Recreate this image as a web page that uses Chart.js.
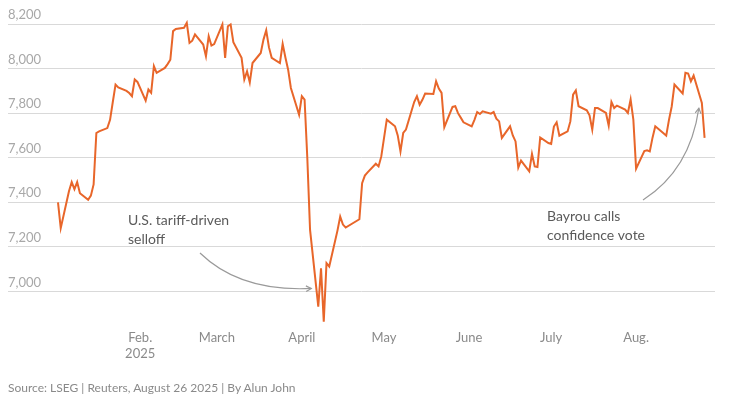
<!DOCTYPE html>
<html>
<head>
<meta charset="utf-8">
<script src="https://cdn.jsdelivr.net/npm/chart.js@4.4.1/dist/chart.umd.min.js"></script>
<style>
  html, body { margin: 0; padding: 0; background: #fff; }
  #wrap { position: relative; width: 741px; height: 398px; }
  #c { position: absolute; left: 0; top: 0; }
  #src { position: absolute; left: 8px; top: 380px; font: 12px Lato, "Open Sans", sans-serif; color: #8a8a8a; white-space: nowrap; }
</style>
</head>
<body>
<div id="wrap">
  <canvas id="c" width="741" height="398"></canvas>
  <div id="src">Source: LSEG | Reuters, August 26 2025 | By Alun John</div>
</div>
<script>
// ---- Data (CAC 40 daily close) ----
const dates = [
  "2025-01-02","2025-01-03","2025-01-06","2025-01-07","2025-01-08","2025-01-09","2025-01-10",
  "2025-01-13","2025-01-14","2025-01-15","2025-01-16","2025-01-17","2025-01-20","2025-01-21",
  "2025-01-22","2025-01-23","2025-01-24","2025-01-27","2025-01-28","2025-01-29","2025-01-30","2025-01-31",
  "2025-02-03","2025-02-04","2025-02-05","2025-02-06","2025-02-07","2025-02-10","2025-02-11",
  "2025-02-12","2025-02-13","2025-02-14","2025-02-17","2025-02-18","2025-02-19","2025-02-20",
  "2025-02-21","2025-02-24","2025-02-25","2025-02-26","2025-02-27","2025-02-28",
  "2025-03-03","2025-03-04","2025-03-05","2025-03-06","2025-03-07","2025-03-10","2025-03-11",
  "2025-03-12","2025-03-13","2025-03-14","2025-03-17","2025-03-18","2025-03-19","2025-03-20",
  "2025-03-21","2025-03-24","2025-03-25","2025-03-26","2025-03-27","2025-03-28","2025-03-31",
  "2025-04-01","2025-04-02","2025-04-03","2025-04-04","2025-04-07","2025-04-08","2025-04-09",
  "2025-04-10","2025-04-11","2025-04-14","2025-04-15","2025-04-16","2025-04-17","2025-04-22",
  "2025-04-23","2025-04-24","2025-04-25","2025-04-28","2025-04-29","2025-04-30",
  "2025-05-02","2025-05-05","2025-05-06","2025-05-07","2025-05-08","2025-05-09","2025-05-12",
  "2025-05-13","2025-05-14","2025-05-15","2025-05-16","2025-05-19","2025-05-20","2025-05-21",
  "2025-05-22","2025-05-23","2025-05-26","2025-05-27","2025-05-28","2025-05-29","2025-05-30",
  "2025-06-02","2025-06-03","2025-06-04","2025-06-05","2025-06-06","2025-06-09","2025-06-10",
  "2025-06-11","2025-06-12","2025-06-13","2025-06-16","2025-06-17","2025-06-18","2025-06-19",
  "2025-06-20","2025-06-23","2025-06-24","2025-06-25","2025-06-26","2025-06-27","2025-06-30",
  "2025-07-01","2025-07-02","2025-07-03","2025-07-04","2025-07-07","2025-07-08","2025-07-09",
  "2025-07-10","2025-07-11","2025-07-14","2025-07-15","2025-07-16","2025-07-17","2025-07-18",
  "2025-07-21","2025-07-22","2025-07-23","2025-07-24","2025-07-25","2025-07-28","2025-07-29",
  "2025-07-30","2025-07-31","2025-08-01","2025-08-04","2025-08-05","2025-08-06","2025-08-07",
  "2025-08-08","2025-08-11","2025-08-12","2025-08-13","2025-08-14","2025-08-15","2025-08-18",
  "2025-08-19","2025-08-20","2025-08-21","2025-08-22","2025-08-25","2025-08-26"
];
const closes = [
  7400,7284,7450,7491,7459,7491,7441,
  7411,7430,7480,7711,7718,7733,7770,
  7850,7928,7915,7900,7890,7876,7951,7940,
  7856,7906,7891,8011,7981,8003,8020,
  8040,8168,8178,8183,8205,8115,8125,
  8153,8108,8055,8145,8103,8110,
  8198,8048,8190,8198,8118,8048,7951,
  7988,7938,8025,8070,8130,8172,8095,
  8048,8025,8111,8050,7995,7913,7793,
  7876,7861,7598,7276,6932,7104,6864,
  7127,7112,7273,7336,7300,7287,7324,
  7486,7520,7534,7573,7561,7606,
  7771,7741,7700,7628,7711,7726,7850,
  7876,7838,7860,7888,7886,7943,7910,
  7891,7737,7828,7831,7800,7780,7759,
  7741,7770,7805,7796,7808,7798,7805,
  7775,7763,7689,7741,7700,7673,7556,
  7587,7539,7617,7561,7558,7691,7666,
  7662,7740,7759,7699,7718,7763,7883,
  7902,7831,7813,7790,7726,7823,7823,
  7801,7744,7850,7823,7834,7816,7801,
  7861,7771,7551,7630,7633,7628,7690,
  7741,7710,7699,7770,7830,7928,7888,
  7981,7978,7943,7969,7846,7689
];
const yTicks = [7000, 7200, 7400, 7600, 7800, 8000, 8200];
const monthStarts = ["2025-02-01","2025-03-01","2025-04-01","2025-05-01","2025-06-01","2025-07-01","2025-08-01"];
const monthLabels = [["Feb.","2025"],["March"],["April"],["May"],["June"],["July"],["Aug."]];

// day-of-year helper
function doy(s) {
  const d = new Date(s + "T00:00:00Z");
  return (d - Date.UTC(2025, 0, 1)) / 86400000 + 1;
}
const points = dates.map((d, i) => ({ x: doy(d), y: closes[i] }));
const monthTickValues = monthStarts.map(doy);

const annotations = {
  id: 'annotations',
  afterDatasetsDraw(chart) {
    const { ctx, scales: { x, y } } = chart;
    ctx.save();
    ctx.font = '14px Lato, "Open Sans", sans-serif';
    ctx.fillStyle = '#5a5a5a';
    ctx.textBaseline = 'middle';
    ctx.textAlign = 'left';
    ctx.fillText('U.S. tariff-driven', 128, 220);
    ctx.fillText('selloff', 128, 239);
    ctx.fillText('Bayrou calls', 547, 216);
    ctx.fillText('confidence vote', 547, 235);

    ctx.strokeStyle = '#9a9a9a';
    ctx.lineWidth = 1.2;
    // tariff arrow
    const ex1 = x.getPixelForValue(doy("2025-04-07")) - 7, ey1 = y.getPixelForValue(7000) - 3;
    ctx.beginPath();
    ctx.moveTo(200, 253);
    ctx.quadraticCurveTo(240, 292, ex1, ey1);
    ctx.stroke();
    drawHead(ctx, 240, 292, ex1, ey1);
    // Bayrou arrow
    const ex2 = x.getPixelForValue(doy("2025-08-25")) - 3, ey2 = y.getPixelForValue(7800) - 5;
    ctx.beginPath();
    ctx.moveTo(643, 200);
    ctx.quadraticCurveTo(690, 170, ex2, ey2);
    ctx.stroke();
    drawHead(ctx, 690, 170, ex2, ey2);
    ctx.restore();
  }
};
function drawHead(ctx, cx, cy, ex, ey) {
  const a = Math.atan2(ey - cy, ex - cx);
  const L = 6, w = 0.5;
  ctx.beginPath();
  ctx.moveTo(ex - L * Math.cos(a - w), ey - L * Math.sin(a - w));
  ctx.lineTo(ex, ey);
  ctx.lineTo(ex - L * Math.cos(a + w), ey - L * Math.sin(a + w));
  ctx.stroke();
}

new Chart(document.getElementById('c'), {
  type: 'line',
  data: {
    datasets: [{
      data: points,
      borderColor: '#e8662a',
      borderWidth: 2,
      pointRadius: 0,
      tension: 0,
      clip: false
    }]
  },
  options: {
    responsive: false,
    animation: false,
    events: [],
    layout: { padding: { left: 8, right: 26, top: 24, bottom: 32 } },
    plugins: { legend: { display: false }, tooltip: { enabled: false } },
    scales: {
      x: {
        type: 'linear',
        min: -16.25,
        max: 241.8,
        afterBuildTicks(scale) { scale.ticks = monthTickValues.map(v => ({ value: v })); },
        afterFit(scale) { scale.height = 40; },
        ticks: {
          autoSkip: false,
          maxRotation: 0,
          padding: 4,
          color: '#8a8a8a',
          font: { family: 'Lato, "Open Sans", sans-serif', size: 13 },
          callback(v) { const i = monthTickValues.indexOf(v); return i >= 0 ? monthLabels[i] : ''; }
        },
        grid: { display: false, drawTicks: false },
        border: { display: false }
      },
      y: {
        min: 6845,
        max: 8200,
        afterBuildTicks(scale) { scale.ticks = yTicks.map(v => ({ value: v })); },
        afterFit(scale) { scale.width = 0; },
        ticks: {
          mirror: true,
          padding: 0,
          labelOffset: -9,
          color: '#a8a8a8',
          font: { family: 'Lato, "Open Sans", sans-serif', size: 13 },
          callback(v) { return v.toLocaleString('en-US'); }
        },
        grid: { color: '#d9d9d9', lineWidth: 1, drawTicks: false },
        border: { display: false }
      }
    }
  },
  plugins: [annotations]
});
</script>
</body>
</html>
